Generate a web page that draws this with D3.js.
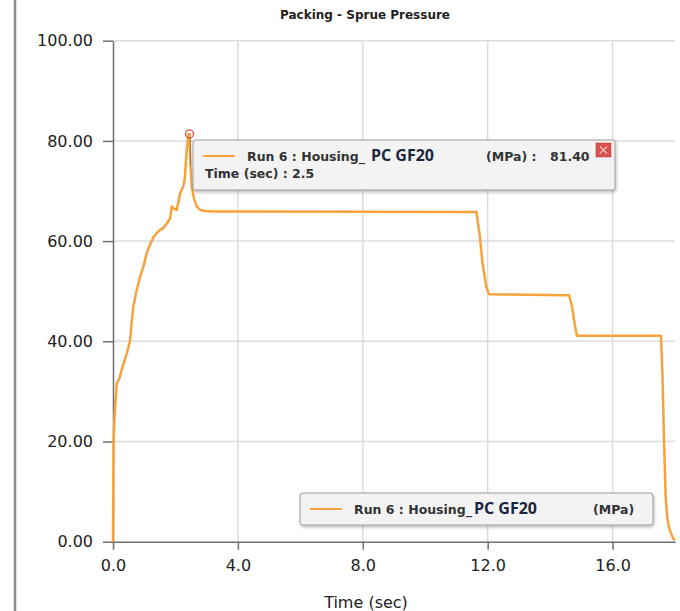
<!DOCTYPE html>
<html>
<head>
<meta charset="utf-8">
<script src="https://cdn.jsdelivr.net/npm/d3@7"></script>
<style>
  body { margin: 0; background: #fff; }
  svg { display: block; font-family: "DejaVu Sans", Verdana, sans-serif; }
  .grid line { stroke: #dcdcdc; stroke-width: 1.5; }
  .axis path, .axis line { stroke: #6e6e6e; stroke-width: 1.5; }
  .axis text { font-size: 16px; fill: #222; font-family: "DejaVu Sans", sans-serif; }
</style>
</head>
<body>
<svg width="680" height="611"></svg>
<script>
// Packing - Sprue Pressure (Run 6 : Housing_PC GF20)
var timeSec = [0, 0.02, 0.05, 0.08, 0.12, 0.2, 0.28, 0.36, 0.44, 0.5,
  0.55, 0.6, 0.65, 0.75, 0.87, 1.0, 1.08, 1.2, 1.3, 1.4,
  1.5, 1.61, 1.72, 1.83, 1.88, 1.95, 2.04, 2.1, 2.15, 2.25,
  2.3, 2.36, 2.42, 2.45, 2.48, 2.52, 2.58, 2.68, 2.8, 2.95,
  3.2, 11.64, 11.75, 11.83, 11.95, 12.04, 14.61, 14.7, 14.8, 14.86,
  17.55, 17.6, 17.65, 17.7, 17.75, 17.8, 17.87, 17.95, 18.0];
var pressure = [0, 20, 25, 28, 31.6, 32.5, 34.3, 36, 37.6, 39,
  40.3, 44, 46.9, 50, 52.9, 55.5, 57.6, 59.5, 60.8, 61.6,
  62.2, 62.6, 63.5, 64.5, 66.9, 66.5, 66.2, 68, 69.5, 70.9,
  72.5, 78, 81.4, 81.4, 75.5, 71, 68.9, 66.9, 66.2, 66.0,
  65.9, 65.8, 61, 55.9, 51, 49.4, 49.2, 47, 43, 41.1,
  41.1, 33, 20, 9, 5, 3, 1.7, 0.6, 0.3];

var xTicks = [0, 4, 8, 12, 16];
var yTicks = [0, 20, 40, 60, 80, 100];

var peakTime = 2.45, peakValue = 81.40, peakLabel = "2.5";
var seriesName = "Run 6 : Housing_", material = "PC GF20", unit = "(MPa)";
var lineColor = "#f7a23c";

var svg = d3.select("svg");

var x = d3.scaleLinear().domain([0, 18]).range([113, 675]);
var y = d3.scaleLinear().domain([0, 100]).range([541.7, 40.7]);

// left frame bar
svg.append("line")
  .attr("x1", 15).attr("x2", 15).attr("y1", 0).attr("y2", 611)
  .attr("stroke", "#8a8a8a").attr("stroke-width", 2.5);

// title
svg.append("text")
  .attr("x", 365).attr("y", 19)
  .attr("text-anchor", "middle")
  .style("font-size", "12px").style("font-weight", "bold").style("fill", "#222")
  .text("Packing - Sprue Pressure");

// grid
var grid = svg.append("g").attr("class", "grid");
grid.selectAll(".h").data(yTicks.filter(d => d > 0)).join("line")
  .attr("x1", x(0)).attr("x2", x(18))
  .attr("y1", d => y(d)).attr("y2", d => y(d));
grid.selectAll(".v").data(xTicks.filter(d => d > 0)).join("line")
  .attr("x1", d => x(d)).attr("x2", d => x(d))
  .attr("y1", y(100)).attr("y2", y(0));

// axes
svg.append("g").attr("class", "axis")
  .attr("transform", "translate(0," + y(0) + ")")
  .call(d3.axisBottom(x).tickValues(xTicks).tickFormat(d3.format(".1f")).tickSize(8).tickPadding(6).tickSizeOuter(0))
  .call(g => g.selectAll("text").attr("dy", "0.95em"));

svg.append("g").attr("class", "axis")
  .attr("transform", "translate(" + x(0) + ",0)")
  .call(d3.axisLeft(y).tickValues(yTicks).tickFormat(d3.format(".2f")).tickSize(10).tickPadding(10).tickSizeOuter(0));

// axis title
svg.append("text")
  .attr("x", 366).attr("y", 608)
  .attr("text-anchor", "middle")
  .style("font-size", "16px").style("fill", "#222")
  .text("Time (sec)");

// curve
var line = d3.line()
  .x((d, i) => x(timeSec[i]))
  .y(d => y(d));

svg.append("path")
  .datum(pressure)
  .attr("fill", "none")
  .attr("stroke", lineColor)
  .attr("stroke-width", 2.5)
  .attr("stroke-linejoin", "round")
  .attr("d", line);

// peak marker
svg.append("line")
  .attr("x1", x(peakTime) + 1).attr("x2", x(peakTime) + 1)
  .attr("y1", y(peakValue) + 4).attr("y2", 166)
  .attr("stroke", "#555").attr("stroke-width", 1).attr("stroke-dasharray", "1,1");
svg.append("circle")
  .attr("cx", x(peakTime)).attr("cy", y(peakValue)).attr("r", 4)
  .attr("fill", "none").attr("stroke", "#d9534f").attr("stroke-width", 1.3);

// shadow filter
var defs = svg.append("defs");
var f = defs.append("filter").attr("id", "sh").attr("x", "-5%").attr("y", "-20%").attr("width", "115%").attr("height", "150%");
f.append("feDropShadow").attr("dx", 1).attr("dy", 2).attr("stdDeviation", 1.5).attr("flood-color", "#000").attr("flood-opacity", 0.25);

// tooltip
var tip = svg.append("g").attr("transform", "translate(193,140)");
tip.append("rect")
  .attr("width", 422).attr("height", 50).attr("rx", 2)
  .attr("fill", "#f3f3f3").attr("stroke", "#9a9a9a").attr("stroke-width", 1)
  .attr("filter", "url(#sh)");
tip.append("line").attr("x1", 10).attr("x2", 42).attr("y1", 16).attr("y2", 16)
  .attr("stroke", lineColor).attr("stroke-width", 2);
var t1 = tip.append("text").attr("x", 54).attr("y", 21)
  .style("font-size", "12.5px").style("font-weight", "bold").style("fill", "#333");
t1.append("tspan").text(seriesName);
t1.append("tspan").attr("dx", 6).style("font-family", "'Open Sans', sans-serif")
  .style("font-size", "16px").style("fill", "#1a2540").text(material);
tip.append("text").attr("x", 293).attr("y", 21)
  .style("font-size", "12.5px").style("font-weight", "bold").style("fill", "#333")
  .text(unit + " :");
tip.append("text").attr("x", 357).attr("y", 21)
  .style("font-size", "12.5px").style("font-weight", "bold").style("fill", "#333")
  .text(d3.format(".2f")(peakValue));
tip.append("text").attr("x", 12).attr("y", 38)
  .style("font-size", "12.5px").style("font-weight", "bold").style("fill", "#333")
  .text("Time (sec) : " + peakLabel);
// close box
var cb = tip.append("g").attr("transform", "translate(403,3)");
cb.append("rect").attr("width", 15).attr("height", 14).attr("fill", "#d9534f").attr("stroke", "#b33").attr("stroke-width", 0.5);
cb.append("path").attr("d", "M4,3.5L11,10.5M11,3.5L4,10.5").attr("stroke", "#f3c0c0").attr("stroke-width", 1.2);

// legend
var leg = svg.append("g").attr("transform", "translate(300,493)");
leg.append("rect")
  .attr("width", 353).attr("height", 32).attr("rx", 3)
  .attr("fill", "#f3f3f3").attr("stroke", "#9a9a9a").attr("stroke-width", 1)
  .attr("filter", "url(#sh)");
leg.append("line").attr("x1", 10).attr("x2", 42).attr("y1", 16).attr("y2", 16)
  .attr("stroke", lineColor).attr("stroke-width", 2);
var t2 = leg.append("text").attr("x", 54).attr("y", 21)
  .style("font-size", "12.5px").style("font-weight", "bold").style("fill", "#333");
t2.append("tspan").text(seriesName);
t2.append("tspan").attr("dx", 2).style("font-family", "'Open Sans', sans-serif")
  .style("font-size", "16px").style("fill", "#1a2540").text(material);
leg.append("text").attr("x", 293).attr("y", 21)
  .style("font-size", "12.5px").style("font-weight", "bold").style("fill", "#333")
  .text(unit);
</script>
</body>
</html>
